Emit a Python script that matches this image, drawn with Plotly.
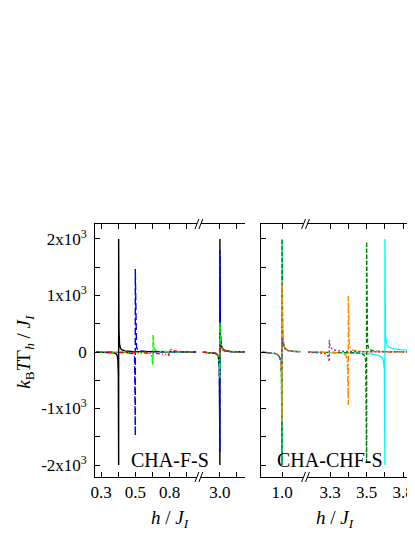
import plotly.graph_objects as go

W, H = 415, 537

# ---- left panel (CHA-F-S), low-field segment ----
blackA_h = [0.27, 0.33, 0.37, 0.385, 0.393, 0.398, 0.401, 0.403, 0.403, 0.405, 0.408, 0.413, 0.42, 0.44, 0.48, 0.55, 0.65, 0.75, 0.855]
blackA_y = [-2, -5, -12, -25, -50, -120, -400, -2000, 2000, 400, 150, 70, 40, 20, 10, 5, 3, 2, 1]
blueA_h = [0.27, 0.4, 0.45, 0.48, 0.49, 0.496, 0.5, 0.5, 0.503, 0.507, 0.515, 0.53, 0.56, 0.62, 0.7, 0.855]
blueA_y = [0, -3, -10, -25, -50, -90, -1480, 1470, 110, 80, 40, 20, 10, 4, 2, 1]
greenA_h = [0.27, 0.5, 0.56, 0.585, 0.595, 0.6, 0.603, 0.603, 0.606, 0.61, 0.62, 0.64, 0.7, 0.855]
greenA_y = [0, -3, -10, -30, -70, -120, -230, 300, 120, 60, 30, 12, 4, 1]
redA_h = [0.27, 0.45, 0.55, 0.62, 0.66, 0.68, 0.695, 0.70, 0.705, 0.72, 0.75, 0.8, 0.855]
redA_y = [0, -5, -15, -25, -35, -45, -60, 40, 60, 25, 10, 4, 2]

# ---- left panel, high-field segment ----
leftB_h = [2.9, 2.95, 2.975, 2.985, 2.992, 2.997, 3.0, 3.0, 3.003, 3.008, 3.015, 3.03, 3.06, 3.1, 3.146]
blackB_y = [-3, -10, -25, -50, -100, -300, -2000, 2000, 300, 120, 60, 25, 10, 4, 2]
blueB_y = [-3, -10, -25, -50, -100, -300, -1770, 1800, 300, 120, 60, 25, 10, 4, 2]
greenB_y = [-3, -10, -25, -50, -100, -250, -460, 530, 250, 110, 55, 25, 10, 4, 2]
redB_y = [-2, -8, -20, -40, -70, -90, -100, 110, 90, 60, 35, 18, 8, 3, 1]

# ---- right panel (CHA-CHF-S), low-field segment ----
rightA_h = [0.89, 0.93, 0.96, 0.975, 0.985, 0.992, 0.997, 1.0, 1.0, 1.003, 1.008, 1.015, 1.03, 1.06, 1.1]
cyanA_y = [-3, -10, -25, -45, -80, -150, -400, -2000, 2000, 400, 150, 70, 30, 12, 5]
dgreenA_y = [-3, -10, -25, -45, -80, -150, -400, -2000, 2000, 400, 150, 70, 30, 12, 5]
orangeA_y = [-3, -10, -25, -45, -80, -150, -400, -1240, 1240, 400, 150, 70, 30, 12, 5]
purpleA_y = [-3, -10, -25, -45, -80, -130, -180, -220, 250, 180, 110, 60, 25, 10, 4]

# ---- right panel, high-field segment ----
purpleB_h = [3.18, 3.24, 3.27, 3.285, 3.292, 3.296, 3.296, 3.3, 3.31, 3.33, 3.37, 3.45, 3.55, 3.733]
purpleB_y = [-3, -10, -25, -50, -90, -170, 210, 110, 60, 30, 12, 5, 3, 1]
orangeB_h = [3.18, 3.3, 3.35, 3.375, 3.388, 3.395, 3.4, 3.4, 3.405, 3.412, 3.425, 3.45, 3.5, 3.6, 3.733]
orangeB_y = [-2, -6, -15, -30, -60, -150, -940, 990, 150, 60, 30, 15, 6, 3, 1]
dgreenB_h = [3.18, 3.4, 3.45, 3.475, 3.488, 3.495, 3.5, 3.5, 3.505, 3.512, 3.525, 3.55, 3.6, 3.733]
dgreenB_y = [-2, -6, -15, -30, -60, -150, -1940, 1950, 150, 60, 30, 15, 6, 2]
cyanB_h = [3.18, 3.4, 3.48, 3.53, 3.56, 3.58, 3.59, 3.597, 3.6, 3.6, 3.603, 3.61, 3.62, 3.65, 3.7, 3.733]
cyanB_y = [-3, -8, -20, -35, -55, -85, -130, -300, -2000, 2000, 300, 140, 90, 55, 35, 30]

y_tickvals = [-2000, -1500, -1000, -500, 0, 500, 1000, 1500, 2000]
y_ticktext = ["-2x10<sup>3</sup>", "", "-1x10<sup>3</sup>", "", "0", "", "1x10<sup>3</sup>", "", "2x10<sup>3</sup>"]

FONT = "Liberation Serif, Times New Roman, serif"
OFF = 8  # page body margin

DASH = "7px,3px"
DASHDOT = "6px,2px,2px,2px"
SHORTDASH = "4px,2px"
DASHDOTDOT = "4px,2px,1px,2px,1px,2px"
DOT = "2px,2px"


def px(x):
    return (x - OFF) / W


def py(y):
    return 1 - (y - OFF) / H


fig = go.Figure()


def add(x, y, color, dash, xa, ya):
    fig.add_trace(go.Scatter(x=x, y=y, mode="lines", xaxis=xa, yaxis=ya,
                             line=dict(color=color, dash=dash, width=1.4),
                             showlegend=False, hoverinfo="skip"))


add(blackA_h, blackA_y, "#000000", "solid", "x", "y")
add(blueA_h, blueA_y, "#0000ff", DASH, "x", "y")
add(greenA_h, greenA_y, "#00ff00", DASHDOT, "x", "y")
add(redA_h, redA_y, "#ff0000", DASHDOTDOT, "x", "y")
add(leftB_h, blackB_y, "#000000", "solid", "x2", "y")
add(leftB_h, blueB_y, "#0000ff", DASH, "x2", "y")
add(leftB_h, greenB_y, "#00ff00", DASHDOT, "x2", "y")
add(leftB_h, redB_y, "#ff0000", DASHDOTDOT, "x2", "y")

add(rightA_h, cyanA_y, "#00ffff", "solid", "x3", "y2")
add(rightA_h, dgreenA_y, "#008000", SHORTDASH, "x3", "y2")
add(rightA_h, orangeA_y, "#ff8c00", DASHDOT, "x3", "y2")
add(rightA_h, purpleA_y, "#993399", DOT, "x3", "y2")
add(cyanB_h, cyanB_y, "#00ffff", "solid", "x4", "y2")
add(dgreenB_h, dgreenB_y, "#008000", SHORTDASH, "x4", "y2")
add(orangeB_h, orangeB_y, "#ff8c00", DASHDOT, "x4", "y2")
add(purpleB_h, purpleB_y, "#993399", DOT, "x4", "y2")

tickfont = dict(family=FONT, size=17, color="black")
xcommon = dict(showline=True, linecolor="black", linewidth=1, mirror="ticks", ticks="inside",
               ticklen=5, tickcolor="black", showgrid=False, zeroline=False, tickfont=tickfont,
               tickmode="array")
ycommon = dict(showline=True, linecolor="black", linewidth=1, ticks="inside", ticklen=5,
               tickcolor="black", showgrid=False, zeroline=False, tickfont=tickfont,
               tickmode="array", tickvals=y_tickvals, range=[-2212, 2265])
ydom = [py(477), py(224)]

fig.update_layout(
    width=W, height=H, margin=dict(l=0, r=0, t=0, b=0),
    paper_bgcolor="white", plot_bgcolor="white",
    xaxis=dict(xcommon, domain=[px(92), px(198)], range=[0.266, 0.871], anchor="y",
               tickvals=[0.3, 0.4, 0.5, 0.6, 0.7, 0.8], ticktext=["0.3", "", "0.5", "", "0.8", ""]),
    xaxis2=dict(xcommon, domain=[px(198), px(245)], range=[2.877, 3.146], anchor="y",
                tickvals=[3.0, 3.1], ticktext=["3.0", ""]),
    xaxis3=dict(xcommon, domain=[px(262), px(307)], range=[0.888, 1.128], anchor="y2",
                tickvals=[1.0], ticktext=["1.0"]),
    xaxis4=dict(xcommon, domain=[px(307), px(413)], range=[3.166, 3.733], anchor="y2",
                tickvals=[3.3, 3.4, 3.5, 3.6, 3.7], ticktext=["3.3", "", "3.5", "", "3.8"]),
    yaxis=dict(ycommon, domain=ydom, anchor="x", ticktext=y_ticktext, ticklabelstandoff=4),
    yaxis2=dict(ycommon, domain=ydom, anchor="x3", showticklabels=False),
    yaxis3=dict(ycommon, overlaying="y", anchor="free", position=px(245), side="right",
                showticklabels=False),
    yaxis4=dict(ycommon, overlaying="y2", anchor="free", position=px(413), side="right",
                showticklabels=False),
)

# axis breaks "//"
for bx in (198, 307):
    for by in (224, 477):
        fig.add_shape(type="rect", xref="paper", yref="paper", x0=px(bx - 2), x1=px(bx + 2),
                      y0=py(by + 1), y1=py(by - 1), fillcolor="white", line=dict(width=0), layer="above")
        for off in (-2, 2):
            fig.add_shape(type="line", xref="paper", yref="paper",
                          x0=px(bx + off - 2), y0=py(by + 5), x1=px(bx + off + 2), y1=py(by - 5),
                          line=dict(color="black", width=1), layer="above")

title_font = dict(family=FONT, size=19, color="black")
fig.add_annotation(x=px(20), y=py(352), xref="paper", yref="paper", textangle=-90, showarrow=False,
                   xanchor="center", yanchor="middle",
                   text="<i>k</i><sub>B</sub><i>T</i>Γ<sub><i>h</i></sub> / <i>J</i><sub><i>I</i></sub>",
                   font=title_font)
for cx in (168.5, 337.5):
    fig.add_annotation(x=px(cx), y=py(519), xref="paper", yref="paper", showarrow=False,
                       xanchor="center", yanchor="middle",
                       text="<i>h</i> / <i>J</i><sub><i>I</i></sub>", font=title_font)
fig.add_annotation(x=px(168), y=py(460), xref="paper", yref="paper", showarrow=False,
                   xanchor="center", yanchor="middle",
                   text="CHA-F-S", font=dict(family=FONT, size=20, color="black"))
fig.add_annotation(x=px(332), y=py(460), xref="paper", yref="paper", showarrow=False,
                   xanchor="center", yanchor="middle",
                   text="CHA-CHF-S", font=dict(family=FONT, size=20, color="black"))

fig.write_html("out.html")
